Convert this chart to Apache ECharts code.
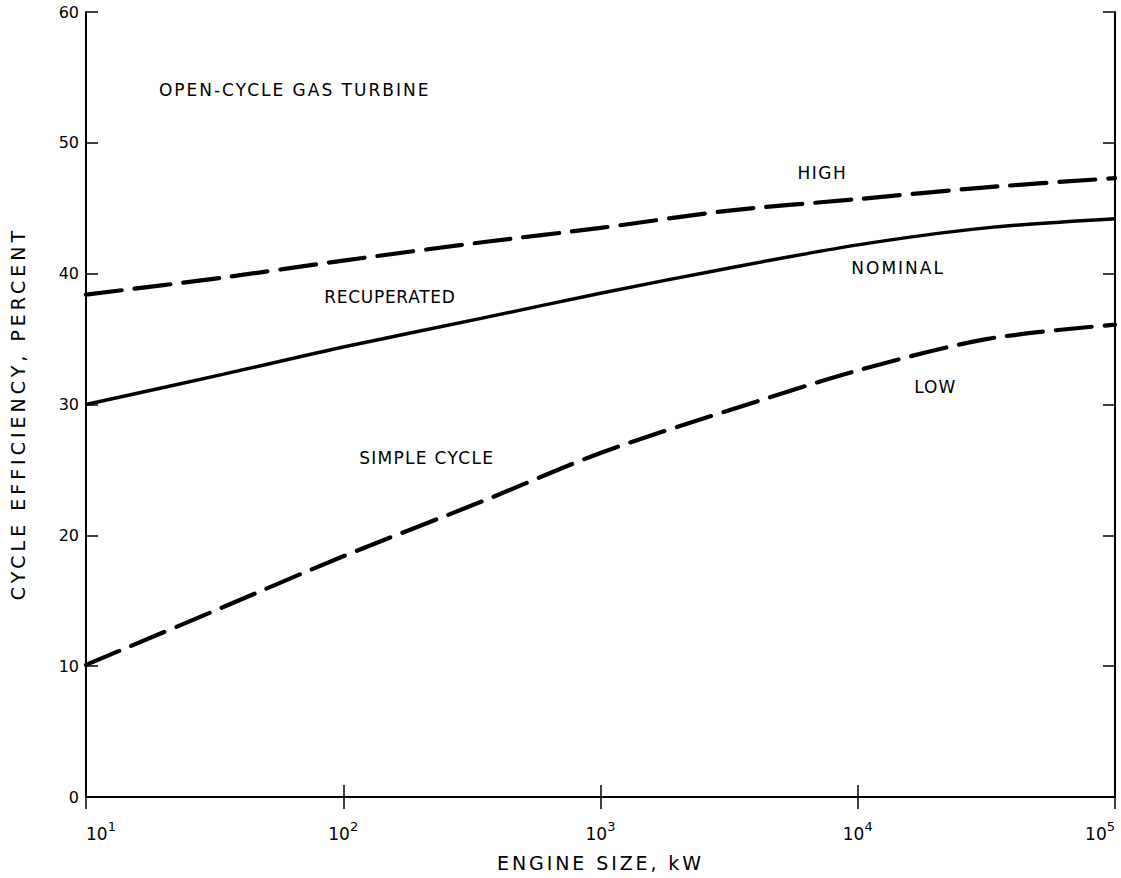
<!DOCTYPE html>
<html>
<head>
<meta charset="utf-8">
<script src="https://cdn.jsdelivr.net/npm/echarts@6/dist/echarts.min.js"></script>
<style>
html,body{margin:0;padding:0;background:#fff;}
#chart{width:1121px;height:878px;}
</style>
</head>
<body>
<div id="chart"></div>
<script>
// Engine size (kW) sample points and cycle efficiency (%)
const engineSizeKW = [10, 34, 100, 347, 1000, 3100, 10000, 31600, 100000];
const highEff     = [38.4, 39.7, 41.0, 42.4, 43.5, 44.8, 45.7, 46.6, 47.3];
const nominalEff  = [30.0, 32.3, 34.4, 36.6, 38.5, 40.4, 42.2, 43.5, 44.2];
const lowEff      = [10.1, 14.5, 18.4, 22.6, 26.3, 29.5, 32.6, 35.0, 36.1];

const yTicks = [0, 10, 20, 30, 40, 50, 60];

// Text annotations: [kW, percent, text, align, letter spacing px]
const annotations = [
  [19.2, 54.05, 'OPEN-CYCLE GAS TURBINE', 'left', 2],
  [7280, 47.7, 'HIGH', 'center', 1.5],
  [14350, 40.4, 'NOMINAL', 'center', 2],
  [20000, 31.3, 'LOW', 'center', 1],
  [151.8, 38.2, 'RECUPERATED', 'center', 0.7],
  [211, 25.9, 'SIMPLE CYCLE', 'center', 1.3]
];

const FONT = '"DejaVu Sans", sans-serif';
const zip = (xs, ys) => xs.map((x, i) => [x, ys[i]]);

const chart = echarts.init(document.getElementById('chart'), null, {renderer: 'svg'});
const axisLine = {show: true, lineStyle: {color: '#000', width: 2}};
const tickIn = {show: true, inside: true, length: 12, lineStyle: {color: '#000', width: 1.5}};

chart.setOption({
  backgroundColor: '#fff',
  animation: false,
  grid: {left: 85, right: 6, top: 12, bottom: 81, containLabel: false},
  xAxis: [{
    type: 'log', logBase: 10, min: 10, max: 100000,
    position: 'bottom',
    axisLine: axisLine, axisTick: tickIn, splitLine: {show: false}, minorTick: {show: false},
    axisLabel: {
      margin: 23, color: '#000', fontFamily: FONT,
      alignMinLabel: 'left', alignMaxLabel: 'right',
      formatter: v => {
        const e = Math.round(Math.log10(v));
        return '{b|10}{s|' + e + '}';
      },
      rich: {
        b: {fontSize: 17, fontFamily: FONT, color: '#000', lineHeight: 22, verticalAlign: 'bottom'},
        s: {fontSize: 13, fontFamily: FONT, color: '#000', lineHeight: 13, verticalAlign: 'top'}
      }
    },
    name: 'ENGINE SIZE, kW', nameLocation: 'middle', nameGap: 56,
    nameTextStyle: {fontSize: 19, fontFamily: FONT, color: '#000'}
  }, {
    type: 'log', logBase: 10, min: 10, max: 100000,
    position: 'top',
    axisLine: axisLine, axisTick: tickIn, axisLabel: {show: false}, splitLine: {show: false}
  }],
  yAxis: [{
    type: 'value', min: 0, max: 60, interval: 10,
    position: 'left',
    axisLine: axisLine, axisTick: tickIn, splitLine: {show: false},
    axisLabel: {margin: 7, color: '#000', fontSize: 16, fontFamily: FONT,
      formatter: v => yTicks.includes(v) ? String(v) : ''},
    name: 'CYCLE EFFICIENCY, PERCENT', nameLocation: 'middle', nameGap: 59, nameRotate: 90,
    nameTextStyle: {fontSize: 19, fontFamily: FONT, color: '#000', padding: [0, 18, 0, 0]}
  }, {
    type: 'value', min: 0, max: 60, interval: 10,
    position: 'right',
    axisLine: axisLine, axisTick: tickIn, axisLabel: {show: false}, splitLine: {show: false}
  }],
  series: [{
    name: 'High', type: 'line', data: zip(engineSizeKW, highEff), smooth: 0.3,
    showSymbol: false, symbol: 'none',
    lineStyle: {color: '#000', width: 4.2, type: [36, 13], cap: 'round'}
  }, {
    name: 'Nominal', type: 'line', data: zip(engineSizeKW, nominalEff), smooth: 0.3,
    showSymbol: false, symbol: 'none',
    lineStyle: {color: '#000', width: 3.5, type: 'solid'}
  }, {
    name: 'Low', type: 'line', data: zip(engineSizeKW, lowEff), smooth: 0.3,
    showSymbol: false, symbol: 'none',
    lineStyle: {color: '#000', width: 4.2, type: [36, 13], cap: 'round'}
  }]
});

const graphics = annotations.map(a => {
  const p = chart.convertToPixel({xAxisIndex: 0, yAxisIndex: 0}, [a[0], a[1]]);
  return {
    type: 'text', x: p[0], y: p[1],
    style: {text: a[2], fill: '#000', font: '17px ' + FONT, textAlign: a[3], textVerticalAlign: 'middle'}
  };
});
chart.setOption({graphic: graphics});

// Wider letter spacing, as in the typeset original
const spacing = {
  'CYCLE EFFICIENCY, PERCENT': 4,
  'ENGINE SIZE, kW': 2.9
};
annotations.forEach(a => { spacing[a[2]] = a[4]; });
function applySpacing() {
  document.querySelectorAll('#chart svg text').forEach(t => {
    const s = spacing[t.textContent];
    if (s) t.setAttribute('letter-spacing', s + 'px');
  });
}
chart.on('finished', applySpacing);
applySpacing();
setTimeout(applySpacing, 0);
</script>
</body>
</html>
